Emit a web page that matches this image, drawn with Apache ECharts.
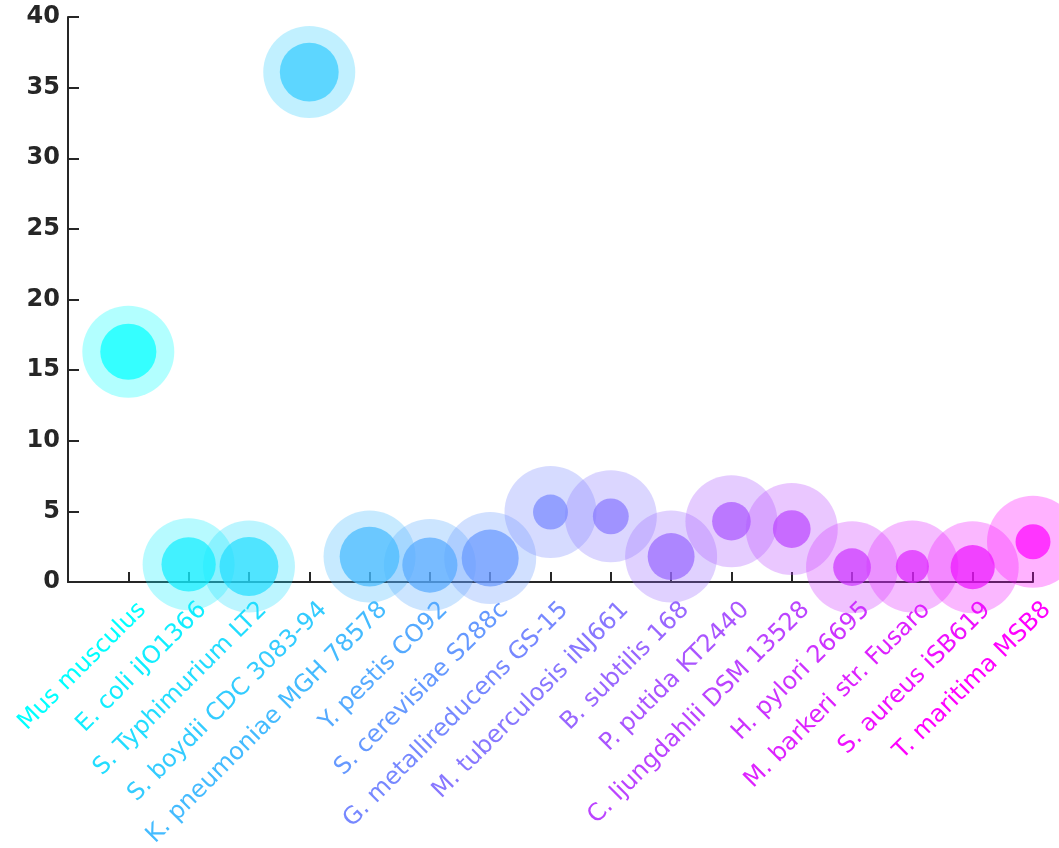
<!DOCTYPE html>
<html>
<head>
<meta charset="utf-8">
<title>scatter</title>
<style>
  html, body { margin: 0; width: 100%; height: 100%; background: #fff; }
  #chart { width: 1059px; height: 848px; }
</style>
</head>
<body>
<div id="chart"></div>
<script src="https://cdn.jsdelivr.net/npm/echarts@6/dist/echarts.min.js"></script>
<script>
// organisms, left to right
var organisms = [
  'Mus musculus', 'E. coli iJO1366', 'S. Typhimurium LT2', 'S. boydii CDC 3083-94',
  'K. pneumoniae MGH 78578', 'Y. pestis CO92', 'S. cerevisiae S288c', 'G. metallireducens GS-15',
  'M. tuberculosis iNJ661', 'B. subtilis 168', 'P. putida KT2440', 'C. ljungdahlii DSM 13528',
  'H. pylori 26695', 'M. barkeri str. Fusaro', 'S. aureus iSB619', 'T. maritima MSB8'
];
// y value of each pair of circles
var yValues = [16.3, 1.25, 1.1, 36.1, 1.8, 1.2, 1.7, 4.95, 4.65, 1.8, 4.3, 3.75, 1.05, 1.1, 1.05, 2.85];
// relative size of the inner circle (outer circle = 1)
var innerScale = [0.61, 0.59, 0.64, 0.64, 0.65, 0.60, 0.62, 0.38, 0.39, 0.51, 0.42, 0.41, 0.41, 0.36, 0.48, 0.38];
var yTicks = [0, 5, 10, 15, 20, 25, 30, 35, 40];

var OUTER = 92;

// matplotlib "cool" colormap
function cool(i, a) {
  var t = i / (organisms.length - 1);
  var r = Math.round(255 * t), g = 255 - r;
  return 'rgba(' + r + ',' + g + ',255,' + a + ')';
}

var outerData = [], innerData = [];
organisms.forEach(function (name, i) {
  outerData.push({ value: [i + 1, yValues[i]], itemStyle: { color: cool(i, 0.3) } });
  innerData.push({ value: [i + 1, yValues[i], innerScale[i]], itemStyle: { color: cool(i, 0.7) } });
});

var axisColor = '#262626';
var chart = echarts.init(document.getElementById('chart'));
chart.setOption({
  animation: false,
  grid: { left: 68, right: 26, top: 17, bottom: 266, containLabel: false, outerBoundsMode: 'none' },
  xAxis: {
    type: 'value', min: 0, max: organisms.length, interval: 1,
    splitLine: { show: false },
    axisLine: { lineStyle: { color: axisColor, width: 2 } },
    axisTick: { inside: true, length: 10, lineStyle: { color: axisColor, width: 2 } },
    axisLabel: {
      rotate: 45, margin: 10, align: 'right', verticalAlign: 'top', padding: [8, 0, 0, 0],
      fontFamily: 'DejaVu Sans', fontSize: 24,
      showMinLabel: true, showMaxLabel: true,
      formatter: function (v) { return organisms[v - 1] || ''; },
      color: function (v) { return v >= 1 ? cool(v - 1, 1) : '#fff'; }
    }
  },
  yAxis: {
    type: 'value', min: 0, max: 40, interval: 5,
    splitLine: { show: false },
    axisLine: { show: true, lineStyle: { color: axisColor, width: 2 } },
    axisTick: { show: true, inside: true, length: 11, lineStyle: { color: axisColor, width: 2 } },
    axisLabel: {
      margin: 8, color: axisColor, fontFamily: 'DejaVu Sans', fontWeight: 'bold', fontSize: 24,
      formatter: function (v) { return yTicks.indexOf(v) >= 0 ? String(v) : ''; }
    }
  },
  series: [
    {
      type: 'scatter', silent: true, clip: false, symbolSize: OUTER,
      itemStyle: { opacity: 1 },
      data: outerData
    },
    {
      type: 'scatter', silent: true, clip: false,
      symbolSize: function (d) { return d[2] * OUTER; },
      itemStyle: { opacity: 1 },
      data: innerData
    }
  ]
});
</script>
</body>
</html>
